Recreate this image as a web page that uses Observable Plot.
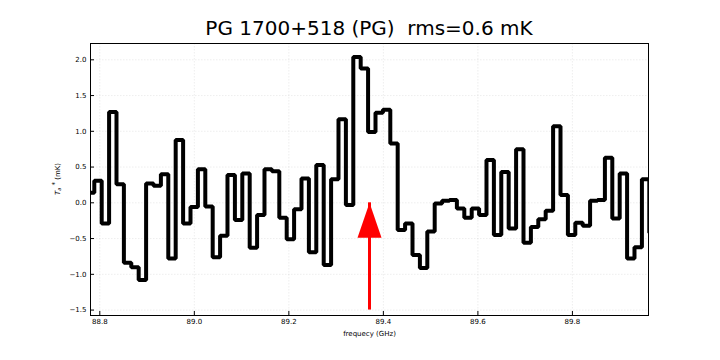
<!DOCTYPE html>
<html>
<head>
<meta charset="utf-8">
<script src="https://cdn.jsdelivr.net/npm/d3@7"></script>
<script src="https://cdn.jsdelivr.net/npm/@observablehq/plot@0.6"></script>
<style>
  html, body { margin: 0; padding: 0; background: #fff; }
  #wrap { width: 720px; height: 360px; overflow: hidden; font-family: "DejaVu Sans", sans-serif; }
  #title { box-sizing: border-box; height: 40px; margin-left: 90px; width: 558px; padding-top: 18px;
           font-size: 20px; line-height: 20px; text-align: center; white-space: pre; color: #000; }
</style>
</head>
<body>
<div id="wrap">
  <div id="title">PG 1700+518 (PG)  rms=0.6 mK</div>
  <div id="chart"></div>
</div>
<script>
// Channel frequencies (GHz) and antenna temperatures (mK)
const freqs = [
  88.7805, 88.7962, 88.8118, 88.8275, 88.8431, 88.8588, 88.8744, 88.8901, 88.9058, 88.9214,
  88.9371, 88.9527, 88.9684, 88.9841, 88.9997, 89.0154, 89.0310, 89.0467, 89.0623, 89.0780,
  89.0937, 89.1093, 89.1250, 89.1406, 89.1563, 89.1720, 89.1876, 89.2033, 89.2189, 89.2346,
  89.2502, 89.2659, 89.2816, 89.2972, 89.3129, 89.3285, 89.3442, 89.3598, 89.3755, 89.3912,
  89.4068, 89.4225, 89.4381, 89.4538, 89.4695, 89.4851, 89.5008, 89.5164, 89.5321, 89.5477,
  89.5634, 89.5791, 89.5947, 89.6104, 89.6260, 89.6417, 89.6573, 89.6730, 89.6887, 89.7043,
  89.7200, 89.7356, 89.7513, 89.7670, 89.7826, 89.7983, 89.8139, 89.8296, 89.8452, 89.8609,
  89.8766, 89.8922, 89.9079, 89.9235, 89.9392, 89.9549, 89.9705
];
const tempsMK = [
  0.14, 0.31, -0.29, 1.27, 0.26, -0.84, -0.90, -1.08, 0.27, 0.24,
  0.40, -0.78, 0.88, -0.29, -0.06, 0.47, -0.05, -0.76, -0.46, 0.39,
  -0.24, 0.41, -0.63, -0.17, 0.47, 0.44, -0.21, -0.51, -0.09, 0.34,
  -0.69, 0.53, -0.87, 0.33, 1.17, -0.03, 2.04, 1.88, 0.99, 1.26,
  1.30, 0.83, -0.38, -0.29, -0.73, -0.91, -0.40, -0.01, 0.03, 0.04,
  -0.08, -0.21, -0.08, -0.17, 0.60, -0.45, 0.43, -0.36, 0.75, -0.56,
  -0.34, -0.23, -0.11, 1.07, 0.11, -0.45, -0.28, -0.32, 0.03, 0.04,
  0.63, -0.22, 0.41, -0.78, -0.62, 0.33, -0.42
];
const xTicks = [88.8, 89.0, 89.2, 89.4, 89.6, 89.8];
const yTicks = [-1.5, -1.0, -0.5, 0.0, 0.5, 1.0, 1.5, 2.0];
const xDomain = [88.7803, 89.961];
const yDomain = [-1.576, 2.228];
// Line marker arrow (expected line frequency)
const arrowFreq = [89.3707];
const arrowTail = -1.5;
const arrowTip = 0.0;

const spectrum = freqs.map((f, i) => ({f, t: tempsMK[i]}));
const arrows = arrowFreq.map(f => ({f, y1: arrowTail, y2: arrowTip}));

const triangleHead = {
  draw(context) {
    context.moveTo(0, 0);
    context.lineTo(12, 35);
    context.lineTo(-12, 35);
    context.closePath();
  }
};

const fmt = d3.format(".1f");
const plotH = 320, mT = 3, mB = 45, mL = 90, mR = 72;
const innerH = plotH - mT - mB, innerW = 720 - mL - mR;

const svg = Plot.plot({
  width: 720,
  height: plotH,
  marginTop: mT,
  marginBottom: mB,
  marginLeft: mL,
  marginRight: mR,
  style: {fontFamily: "DejaVu Sans", fontSize: "7px", background: "#fff", color: "#000"},
  x: {domain: xDomain},
  y: {domain: yDomain},
  marks: [
    Plot.gridX(xTicks, {stroke: "#b0b0b0", strokeOpacity: 0.22, strokeDasharray: "1.5,1.5"}),
    Plot.gridY(yTicks, {stroke: "#b0b0b0", strokeOpacity: 0.22, strokeDasharray: "1.5,1.5"}),
    Plot.line(spectrum, {x: "f", y: "t", curve: "step", stroke: "#000", strokeWidth: 4,
      strokeLinejoin: "miter", strokeLinecap: "butt", clip: true}),
    Plot.ruleX(arrows, {x: "f", y1: "y1", y2: "y2", stroke: "#ff0000", strokeWidth: 3}),
    Plot.dot(arrows, {x: "f", y: "y2", symbol: triangleHead, r: 12, fill: "#ff0000", stroke: "none"}),
    Plot.frame({stroke: "#000", strokeWidth: 1}),
    Plot.tickX(xTicks, {x: d => d, insetTop: innerH - 4, stroke: "#000"}),
    Plot.tickY(yTicks, {y: d => d, insetRight: innerW - 4, stroke: "#000"}),
    Plot.axisX(xTicks, {tickSize: 0, tickPadding: 4, tickFormat: fmt, label: null}),
    Plot.axisY(yTicks, {tickSize: 0, tickPadding: 4, tickFormat: fmt, label: null}),
    Plot.text(["frequecy (GHz)"], {frameAnchor: "bottom", dy: 20, text: d => d, fontSize: 7})
  ]
});

// y-axis label with subscript/superscript
const lab = d3.select(svg).append("text")
  .attr("transform", `translate(59.5,${mT + innerH / 2}) rotate(-90)`)
  .attr("text-anchor", "middle")
  .attr("font-size", 7)
  .attr("font-family", "DejaVu Sans")
  .attr("fill", "#000");
lab.append("tspan").attr("font-style", "italic").text("T");
lab.append("tspan").attr("font-style", "italic").attr("font-size", 5).attr("dy", 1.5).text("a");
lab.append("tspan").attr("dy", -4).text(" *");
lab.append("tspan").attr("dy", 2.5).text(" (mK)");

document.getElementById("chart").appendChild(svg);
</script>
</body>
</html>
